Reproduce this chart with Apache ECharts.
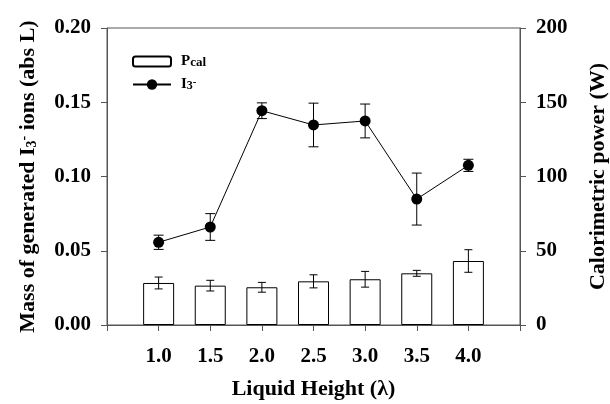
<!DOCTYPE html>
<html>
<head>
<meta charset="utf-8">
<script src="https://cdn.jsdelivr.net/npm/echarts@6/dist/echarts.min.js"></script>
<style>html,body{margin:0;padding:0;background:#fff}#c{width:610px;height:404px}</style>
</head>
<body>
<div id="c"></div>
<script>
const heights = [1.0, 1.5, 2.0, 2.5, 3.0, 3.5, 4.0];
const i3Mass = [0.0557, 0.066, 0.1443, 0.1347, 0.1374, 0.0848, 0.1075];
const i3Err = [0.0048, 0.009, 0.0053, 0.0147, 0.0114, 0.0175, 0.0041];
const pcal = [28.3, 26.5, 25.4, 29.4, 30.8, 34.8, 43.1];
const pcalErr = [4.0, 3.6, 3.3, 4.4, 5.3, 2.0, 7.6];
const leftTicks = [0, 0.05, 0.10, 0.15, 0.20];
const rightTicks = [0, 50, 100, 150, 200];

const FONT = 'Liberation Serif';
const AX = '#555';

function errRender(capW) {
  return function (params, api) {
    const x = api.value(0), lo = api.value(1), hi = api.value(2);
    const p1 = api.coord([x, hi]), p2 = api.coord([x, lo]);
    const h = capW / 2;
    const st = { stroke: '#000', lineWidth: 1 };
    return { type: 'group', children: [
      { type: 'line', shape: { x1: p1[0], y1: p1[1], x2: p2[0], y2: p2[1] }, style: st },
      { type: 'line', shape: { x1: p1[0] - h, y1: p1[1], x2: p1[0] + h, y2: p1[1] }, style: st },
      { type: 'line', shape: { x1: p2[0] - h, y1: p2[1], x2: p2[0] + h, y2: p2[1] }, style: st }
    ]};
  };
}

const chart = echarts.init(document.getElementById('c'));
const labelStyle = { fontFamily: FONT, fontWeight: 'bold', fontSize: 21, color: '#000' };
const titleStyle = { fontFamily: FONT, fontWeight: 'bold', fontSize: 22, color: '#000' };
chart.setOption({
  animation: false,
  backgroundColor: '#fff',
  grid: { left: 107, right: 90, top: 28, bottom: 79, outerBoundsMode: 'none', containLabel: false,
    show: true, borderColor: AX, borderWidth: 1, backgroundColor: 'transparent' },
  legend: [
    { data: ['Pcal'], left: 132, top: 54, padding: 0, itemWidth: 38, itemHeight: 10,
      formatter: () => '{a|P}{b|cal}',
      textStyle: { rich: {
        a: { fontFamily: FONT, fontWeight: 'bold', fontSize: 15, color: '#000', padding: [0, 0, 0, 5] },
        b: { fontFamily: FONT, fontWeight: 'bold', fontSize: 13, color: '#000', verticalAlign: 'bottom' } } } },
    { data: ['I3-'], left: 132, top: 77, padding: 0, itemWidth: 38, itemHeight: 13,
      formatter: () => '{a|I}{b|3}{c|-}',
      textStyle: { rich: {
        a: { fontFamily: FONT, fontWeight: 'bold', fontSize: 15, color: '#000', padding: [0, 0, 0, 5] },
        b: { fontFamily: FONT, fontWeight: 'bold', fontSize: 12, color: '#000', verticalAlign: 'bottom' },
        c: { fontFamily: FONT, fontWeight: 'bold', fontSize: 11, color: '#000', verticalAlign: 'top' } } } }
  ],
  xAxis: {
    type: 'value', min: 0.5, max: 4.5, interval: 0.5,
    splitLine: { show: false },
    axisLine: { show: true, lineStyle: { color: AX } },
    axisTick: { show: true, length: 6, lineStyle: { color: AX } },
    axisLabel: Object.assign({ margin: 21, formatter: v => heights.some(h => Math.abs(h - v) < 1e-6) ? v.toFixed(1) : '' }, labelStyle),
    name: 'Liquid Height (λ)', nameLocation: 'middle', nameGap: 53,
    nameTextStyle: titleStyle
  },
  yAxis: [
    { type: 'value', min: leftTicks[0], max: leftTicks[leftTicks.length - 1], interval: 0.05, position: 'left',
      splitLine: { show: false },
      axisLine: { show: true, lineStyle: { color: AX } },
      axisTick: { show: true, length: 6, lineStyle: { color: AX } },
      axisLabel: Object.assign({ margin: 16, formatter: v => v.toFixed(2) }, labelStyle),
      name: 'Mass of generated I{sub|3}{sup|-} ions (abs L)', nameLocation: 'middle', nameGap: 68, nameRotate: 90,
      nameTextStyle: Object.assign({ rich: {
        sub: { fontFamily: FONT, fontWeight: 'bold', fontSize: 14, color: '#000', verticalAlign: 'bottom' },
        sup: { fontFamily: FONT, fontWeight: 'bold', fontSize: 14, color: '#000', verticalAlign: 'top' } } }, titleStyle) },
    { type: 'value', min: rightTicks[0], max: rightTicks[rightTicks.length - 1], interval: 50, position: 'right',
      splitLine: { show: false },
      axisLine: { show: true, lineStyle: { color: AX } },
      axisTick: { show: true, length: 6, lineStyle: { color: AX } },
      axisLabel: Object.assign({ margin: 16 }, labelStyle),
      name: 'Calorimetric power (W)', nameLocation: 'middle', nameGap: 67, nameRotate: 90,
      nameTextStyle: titleStyle }
  ],
  series: [
    { name: 'Pcal', type: 'bar', yAxisIndex: 1, barWidth: 31,
      itemStyle: { color: '#fff', borderColor: '#000', borderWidth: 1 },
      data: heights.map((h, i) => [h, pcal[i]]), z: 2 },
    { type: 'custom', yAxisIndex: 1, renderItem: errRender(8), encode: { x: 0, y: [1, 2] },
      data: heights.map((h, i) => [h, pcal[i] - pcalErr[i], pcal[i] + pcalErr[i]]), z: 3 },
    { type: 'custom', yAxisIndex: 0, renderItem: errRender(10), encode: { x: 0, y: [1, 2] },
      data: heights.map((h, i) => [h, i3Mass[i] - i3Err[i], i3Mass[i] + i3Err[i]]), z: 3 },
    { name: 'I3-', type: 'line', yAxisIndex: 0, symbol: 'circle', symbolSize: 11,
      itemStyle: { color: '#000' }, lineStyle: { color: '#000', width: 1 },
      data: heights.map((h, i) => [h, i3Mass[i]]), z: 4 }
  ]
});
</script>
</body>
</html>
